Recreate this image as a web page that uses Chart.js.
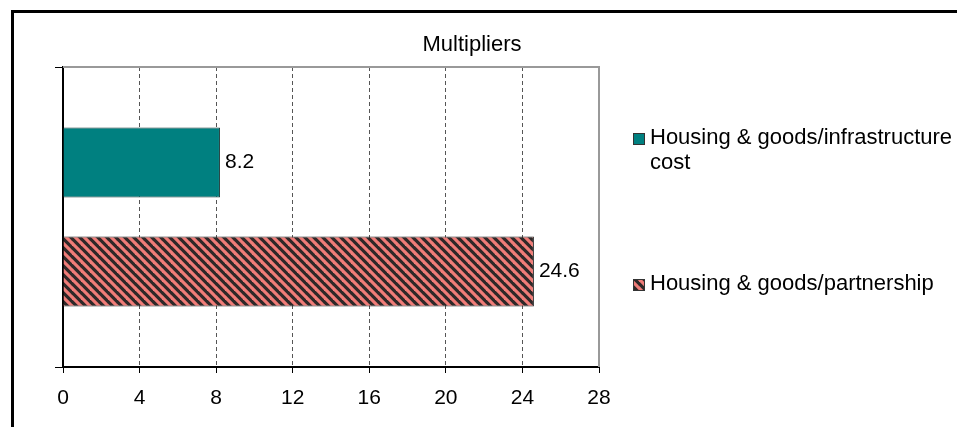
<!DOCTYPE html>
<html lang="en">
<head>
<meta charset="UTF-8">
<title>Multipliers</title>
<script src="https://cdn.jsdelivr.net/npm/chart.js"></script>
<style>
  html, body { margin: 0; padding: 0; background: #fff; }
  #wrap { width: 957px; height: 427px; position: relative; }
</style>
</head>
<body>
<div id="wrap"><canvas id="barChart"></canvas></div>
<script>
// Chart data
const chartTitle = 'Multipliers';
const categories = [''];
const seriesNames = ['Housing & goods/infrastructure cost', 'Housing & goods/partnership'];
const infrastructureValues = [8.2];
const partnershipValues = [24.6];
const xTicks = [0, 4, 8, 12, 16, 20, 24, 28];

const FONT = "'Liberation Sans', Arial, Helvetica, sans-serif";

// diagonal stripes for the partnership bar
function makeHatch() {
	const size = 9;
	const c = document.createElement('canvas');
	c.width = size; c.height = size;
	const g = c.getContext('2d');
	g.fillStyle = '#2e2828';
	g.fillRect(0, 0, size, size);
	g.strokeStyle = '#f07c78';
	g.lineWidth = 3.2;
	for (let k = -1; k <= 1; k++) {
		g.beginPath();
		g.moveTo(k * size - 1, -1);
		g.lineTo(k * size + size + 1, size + 1);
		g.stroke();
	}
	return g.createPattern(c, 'repeat');
}
const hatch = makeHatch();
const teal = '#008080';

// frame, plot border, title, value labels and legend
const decorPlugin = {
	id: 'decor',
	beforeDraw(chart) {
		const ctx = chart.ctx;
		ctx.save();
		ctx.fillStyle = '#fff';
		ctx.fillRect(0, 0, chart.width, chart.height);
		ctx.strokeStyle = '#000';
		ctx.lineWidth = 3;
		ctx.strokeRect(12.5, 11.5, chart.width + 20, chart.height + 20);
		ctx.restore();
	},
	afterDatasetsDraw(chart) {
		const ctx = chart.ctx;
		ctx.save();
		ctx.font = '21px ' + FONT;
		ctx.fillStyle = '#000';
		ctx.textBaseline = 'middle';
		ctx.textAlign = 'left';
		chart.data.datasets.forEach((ds, i) => {
			chart.getDatasetMeta(i).data.forEach((bar, j) => {
				ctx.fillText(String(ds.data[j]), bar.x + 5, bar.y);
			});
		});
		ctx.restore();
	},
	afterDraw(chart) {
		const ctx = chart.ctx;
		const a = chart.chartArea;
		ctx.save();
		// grey top / right border of plot
		ctx.strokeStyle = '#999';
		ctx.lineWidth = 2;
		ctx.beginPath();
		ctx.moveTo(a.left, a.top);
		ctx.lineTo(a.right, a.top);
		ctx.lineTo(a.right, a.bottom);
		ctx.stroke();

		// title
		ctx.fillStyle = '#000';
		ctx.font = '22px ' + FONT;
		ctx.textAlign = 'center';
		ctx.textBaseline = 'alphabetic';
		ctx.fillText(chartTitle, 472, 51);

		// legend
		ctx.textAlign = 'left';
		const lx = 633, tx = 650, maxW = chart.width - tx;
		const baselines = [a.top + 77, a.top + 223];
		chart.data.datasets.forEach((ds, i) => {
			const words = ds.label.split(' ');
			const lines = [];
			let cur = '';
			words.forEach(w => {
				const test = cur ? cur + ' ' + w : w;
				if (ctx.measureText(test).width > maxW && cur) {
					lines.push(cur);
					cur = w;
				} else {
					cur = test;
				}
			});
			lines.push(cur);
			const b = baselines[i];
			ctx.fillStyle = ds.backgroundColor;
			ctx.fillRect(lx, b - 11, 12, 12);
			ctx.strokeStyle = '#333';
			ctx.lineWidth = 1;
			ctx.strokeRect(lx + 0.5, b - 10.5, 11, 11);
			ctx.fillStyle = '#000';
			lines.forEach((ln, k) => ctx.fillText(ln, tx, b + k * 25));
		});
		ctx.restore();
	}
};

new Chart(document.getElementById('barChart'), {
	type: 'bar',
	data: {
		labels: categories,
		datasets: [{
			label: seriesNames[0],
			data: infrastructureValues,
			backgroundColor: teal,
			borderColor: '#1c3c3c',
			borderWidth: 1,
			categoryPercentage: 0.728,
			barPercentage: 0.641
		}, {
			label: seriesNames[1],
			data: partnershipValues,
			backgroundColor: hatch,
			borderColor: '#222',
			borderWidth: 1,
			categoryPercentage: 0.728,
			barPercentage: 0.641
		}]
	},
	options: {
		indexAxis: 'y',
		responsive: true,
		maintainAspectRatio: false,
		animation: false,
		layout: { padding: { top: 67, right: 358, left: 0, bottom: 0 } },
		plugins: {
			legend: { display: false },
			title: { display: false },
			tooltip: { enabled: false }
		},
		scales: {
			x: {
				min: 0,
				max: 28,
				afterBuildTicks: s => { s.ticks = xTicks.map(v => ({ value: v })); },
				grid: { color: '#555', lineWidth: 1, tickColor: '#000', tickLength: 6 },
				border: { color: '#000', width: 2, dash: [4, 3] },
				ticks: { color: '#000', font: { size: 21, family: FONT }, padding: 13, maxRotation: 0 },
				afterFit: s => { s.height = 60; }
			},
			y: {
				grid: { drawOnChartArea: false, tickLength: 8, color: '#000', tickColor: '#000' },
				border: { color: '#000', width: 2 },
				ticks: { display: false },
				afterFit: s => { s.width = 63; }
			}
		}
	},
	plugins: [decorPlugin]
});
</script>
</body>
</html>
